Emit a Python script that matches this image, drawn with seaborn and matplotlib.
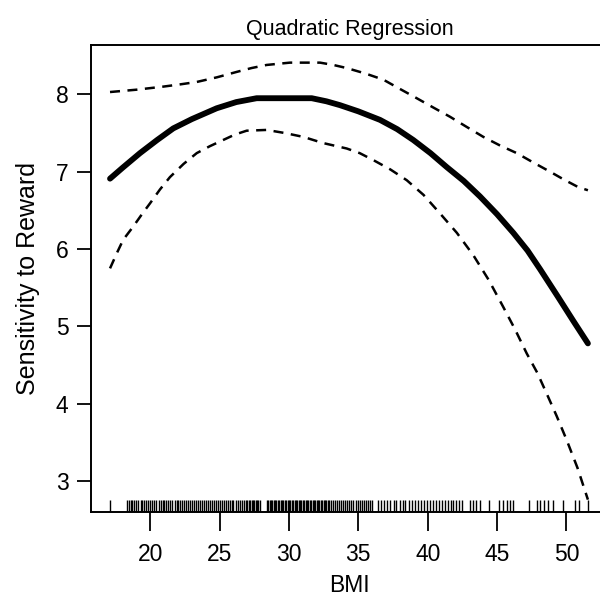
import numpy as np
import pandas as pd
import seaborn as sns
import matplotlib
matplotlib.use('Agg')
import matplotlib.pyplot as plt

# 拟合曲线（读图得到的近似值）
fit_bmi = [17.1, 18.0, 19.26, 20.5, 21.66, 23.0, 24.79, 26.2, 27.67, 31.64,
           32.7, 33.68, 35.0, 36.56, 37.8, 38.96, 40.2, 41.37, 42.6, 43.77,
           45.0, 46.17, 47.2, 48.1, 49.4, 50.5, 51.55]
fit_val = [6.91, 7.05, 7.24, 7.41, 7.56, 7.68, 7.82, 7.90, 7.95, 7.95,
           7.91, 7.86, 7.78, 7.67, 7.55, 7.41, 7.24, 7.06, 6.88, 6.68,
           6.45, 6.21, 5.98, 5.74, 5.38, 5.07, 4.78]

# 上置信界
upper_bmi = [17.1, 19.0, 20.94, 22.2, 23.35, 24.8, 26.23, 27.3, 28.39, 30.07,
             32.24, 33.2, 34.16, 35.5, 36.8, 38.0, 39.21, 40.4, 41.61, 42.8,
             44.01, 45.2, 46.42, 47.6, 48.82, 49.8, 50.86, 51.55]
upper_val = [8.03, 8.06, 8.10, 8.13, 8.16, 8.22, 8.29, 8.34, 8.38, 8.41,
             8.41, 8.38, 8.34, 8.27, 8.19, 8.07, 7.95, 7.83, 7.71, 7.58,
             7.45, 7.34, 7.24, 7.12, 7.00, 6.90, 6.80, 6.76]

# 下置信界
lower_bmi = [17.1, 17.6, 18.05, 18.77, 19.4, 19.98, 20.7, 21.42, 22.4, 23.35,
             24.3, 25.26, 26.1, 26.95, 28.39, 29.7, 31.03, 32.47, 34.16, 35.1,
             36.08, 37.3, 38.49, 39.7, 40.89, 42.1, 43.29, 44.4, 45.45, 46.3,
             47.14, 47.9, 48.58, 49.3, 50.02, 50.8, 51.55]
lower_val = [5.75, 5.95, 6.12, 6.29, 6.45, 6.59, 6.77, 6.93, 7.10, 7.24,
             7.33, 7.41, 7.48, 7.53, 7.54, 7.50, 7.45, 7.37, 7.30, 7.24,
             7.15, 7.03, 6.89, 6.70, 6.46, 6.21, 5.92, 5.60, 5.25, 4.96,
             4.65, 4.40, 4.13, 3.84, 3.53, 3.17, 2.76]

# 样本 BMI（地毯图）
rug_bmi = [17.1,
           18.3, 18.45, 18.6, 18.7, 18.85, 19.0, 19.15, 19.3, 19.4, 19.55,
           19.7, 19.85, 20.0, 20.15, 20.3, 20.45, 20.6, 20.75, 20.9, 21.0,
           21.15, 21.3, 21.45, 21.6, 21.75, 21.9, 22.0, 22.15, 22.3, 22.45,
           22.6, 22.75, 22.9, 23.0, 23.15, 23.3, 23.45, 23.6, 23.75, 23.9,
           24.0, 24.15, 24.3, 24.45, 24.6, 24.75, 24.9, 25.0, 25.15, 25.3,
           25.45, 25.6, 25.75, 25.9, 26.0, 26.15, 26.3, 26.45, 26.6, 26.75,
           26.9, 27.0, 27.1, 27.2, 27.3, 27.4, 27.5, 27.6, 27.7, 27.8, 27.9,
           28.4, 28.5, 28.6, 28.7, 28.8, 28.9, 29.0, 29.1, 29.2, 29.3, 29.4,
           29.5, 29.6, 29.7, 29.8, 29.9, 30.0, 30.1, 30.2, 30.3, 30.4, 30.5,
           30.6, 30.7, 30.8, 30.9, 31.0, 31.1, 31.2, 31.3, 31.4, 31.5, 31.6,
           31.7, 31.8, 31.9, 32.0, 32.1, 32.2, 32.3, 32.4, 32.5, 32.6, 32.7,
           32.8, 32.9, 33.0, 33.15, 33.3, 33.45, 33.6, 33.75, 33.9, 34.05,
           34.2, 34.35, 34.5, 34.65, 34.8, 34.95, 35.1, 35.25, 35.4, 35.55,
           35.7, 35.85, 36.0,
           36.4, 36.6, 36.85, 37.1, 37.3, 37.55, 37.75, 38.0, 38.2, 38.4,
           38.65, 38.85, 39.1, 39.3, 39.5, 39.75, 39.95, 40.15, 40.35, 40.6,
           40.8, 41.0, 41.25, 41.45, 41.65, 41.85, 42.05, 42.25, 42.5,
           43.05, 43.25, 43.48, 43.77, 44.45, 45.16, 45.45, 45.7, 45.93, 46.13,
           47.33, 47.86, 48.1, 48.39, 48.7, 49.06, 49.73, 50.64, 50.89, 51.55]

x_ticks = [20, 25, 30, 35, 40, 45, 50]
y_ticks = [3, 4, 5, 6, 7, 8]

sns.set_style('ticks')
plt.rcParams['font.family'] = ['Liberation Sans', 'DejaVu Sans']
plt.rcParams['text.color'] = 'black'
plt.rcParams['axes.labelcolor'] = 'black'
plt.rcParams['xtick.color'] = 'black'
plt.rcParams['ytick.color'] = 'black'

fig = plt.figure(figsize=(6, 6), dpi=100)
ax = fig.add_axes([0.151, 0.146, 0.864, 0.779])

fit_df = pd.DataFrame({'BMI': fit_bmi, 'y': fit_val})
up_df = pd.DataFrame({'BMI': upper_bmi, 'y': upper_val})
lo_df = pd.DataFrame({'BMI': lower_bmi, 'y': lower_val})

sns.lineplot(data=fit_df, x='BMI', y='y', color='black', lw=4.2,
             estimator=None, sort=False, ax=ax)
for d in (up_df, lo_df):
    sns.lineplot(data=d, x='BMI', y='y', color='black', lw=1.8,
                 linestyle=(0, (4, 3)), estimator=None, sort=False, ax=ax)

sns.rugplot(x=rug_bmi, height=0.026, color='black', lw=1.7,
            expand_margins=False, ax=ax)

ax.set_xlim(15.7, 53.07)
ax.set_ylim(2.595, 8.638)
ax.set_xticks(x_ticks)
ax.set_yticks(y_ticks)

for s in ax.spines.values():
    s.set_linewidth(1.4)
    s.set_color('black')

ax.tick_params(axis='x', length=14, width=1.3, pad=8, labelsize=16.5)
ax.tick_params(axis='y', length=10, width=1.3, pad=6, labelsize=16.5)

ax.set_xlabel('BMI', fontsize=16.5, labelpad=6)
ax.set_ylabel('Sensitivity to Reward', fontsize=18, labelpad=11)
ax.set_title('Quadratic Regression', fontsize=15.5, pad=7)

fig.savefig('out.png', dpi=100)
